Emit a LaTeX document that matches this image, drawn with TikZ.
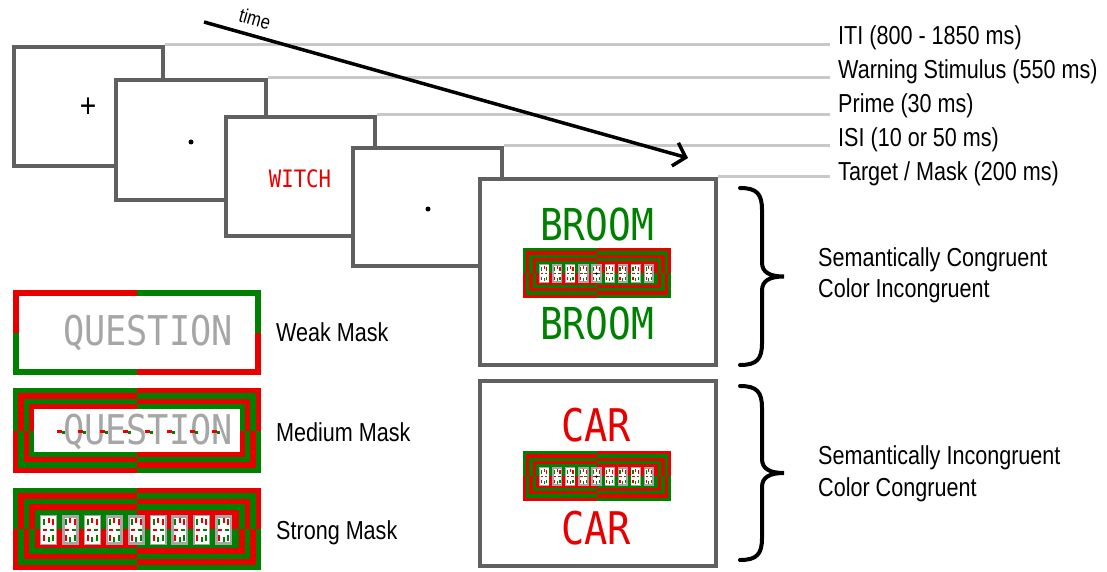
\documentclass[tikz,border=0pt]{standalone}
\usepackage{fontspec}
\setmainfont[FakeStretch=0.83]{Liberation Sans}
\newfontfamily\segfont[FakeStretch=0.86]{DejaVu Sans Mono}
\usetikzlibrary{arrows.meta}
\definecolor{mred}{RGB}{232,0,0}
\definecolor{mgreen}{RGB}{0,128,0}
\definecolor{boxgray}{RGB}{96,96,96}
\definecolor{linegray}{RGB}{200,200,200}
\definecolor{txtgray}{RGB}{166,166,166}

% quadrant rings: x0 y0 x1 y1 lastindex ringwidth colourTLouter colourOther
\newcommand\maskrings[8]{%
  \pgfmathsetmacro\mxm{(#1+#3)/2}%
  \pgfmathsetmacro\mym{(#2+#4)/2}%
  \foreach \k in {0,...,#5}{%
    \pgfmathsetmacro\ax{#1+\k*#6}%
    \pgfmathsetmacro\ay{#2+\k*#6}%
    \pgfmathsetmacro\bx{#3-\k*#6}%
    \pgfmathsetmacro\by{#4-\k*#6}%
    \ifodd\k\relax\def\ca{#8}\def\cb{#7}\else\def\ca{#7}\def\cb{#8}\fi
    \fill[\ca] (\ax,\ay) rectangle (\mxm,\mym);
    \fill[\cb] (\mxm,\ay) rectangle (\bx,\mym);
    \fill[\cb] (\ax,\mym) rectangle (\mxm,\by);
    \fill[\ca] (\mxm,\mym) rectangle (\bx,\by);
  }}

% one noise cell of the strong mask (local 17 x 30)
\newcommand\noisecell[2]{%
  \begin{scope}[shift={(#1,27)}]
    \fill[txtgray] (0,0) rectangle (17,30);
    \fill[white] (#2,#2) rectangle (17-#2,30-#2);
    \fill[mgreen] (3,4) rectangle (5,10);
    \fill[mred] (12,4) rectangle (14,10);
    \fill[mred] (7.5,3) rectangle (9.5,8);
    \fill[mred] (3,20) rectangle (5,26);
    \fill[mgreen] (12,20) rectangle (14,26);
    \fill[mgreen] (7.5,22) rectangle (9.5,27);
    \fill[mred] (3,14) rectangle (7,16);
    \fill[mgreen] (10,14) rectangle (14,16);
  \end{scope}}

\newcommand\strongmaskbody{%
  \maskrings{0}{0}{248}{82}{4}{5.4}{mgreen}{mred}%
  \foreach \i/\g in {0/1.3,1/2.6,2/1.3,3/2.6,4/2.6,5/1.3,6/2.6,7/1.3,8/2.6}{%
    \noisecell{27+\i*21.9}{\g}}%
}

\newcommand\cbrace[3]{%
  \pgfmathsetmacro\bmid{(#2+#3)/2}%
  \draw[bracestyle] (#1,#2) .. controls (#1+17,#2) and (#1+22,#2+6) .. (#1+22,#2+22)
    -- (#1+22,\bmid-14) .. controls (#1+22,\bmid-4) and (#1+30,\bmid) .. (#1+44,\bmid)
    .. controls (#1+30,\bmid) and (#1+22,\bmid+4) .. (#1+22,\bmid+14)
    -- (#1+22,#3-22) .. controls (#1+22,#3-6) and (#1+17,#3) .. (#1,#3);}

\begin{document}
\begin{tikzpicture}[x=1pt,y=-1pt,
  screen/.style={draw=boxgray, line width=4pt, fill=white, rectangle, inner sep=0},
  gline/.style={draw=linegray, line width=3pt},
  lab/.style={font=\fontsize{26}{30}\selectfont, anchor=base west, inner sep=0},
  seg/.style={font=\segfont\fontsize{44}{46}\selectfont, inner sep=0},
  segcar/.style={font=\segfont\fontsize{45}{47}\selectfont, inner sep=0},
  segsmall/.style={font=\segfont\fontsize{24}{26}\selectfont, inner sep=0},
  segq/.style={font=\segfont\fontsize{41}{43}\selectfont, inner sep=0, text=txtgray},
  fixdot/.style={circle, fill=black, inner sep=0, minimum size=5pt},
  timearrow/.style={line width=3.5pt, -{Straight Barb[length=11pt,width=24pt,line width=3.5pt]}},
  bracestyle/.style={line width=4pt, line cap=round, black}]

\fill[white] (0,0) rectangle (1107,572);
\useasboundingbox (0,0) rectangle (1107,572);

\coordinate (lineend) at (830,0);

% screens
\node[screen, minimum width=149pt, minimum height=119pt] (b1) at (88.5,106.5) {};
\node[screen, minimum width=150pt, minimum height=120pt] (b2) at (191,140) {};
\node[screen, minimum width=149pt, minimum height=119pt] (b3) at (300.5,176.5) {};
\node[screen, minimum width=149pt, minimum height=118pt] (b4) at (427.5,207) {};
\node[screen, minimum width=236pt, minimum height=186pt] (b5) at (598,272) {};
\node[screen, minimum width=236pt, minimum height=185pt] (b6) at (598,473.5) {};

% timeline grey lines
\draw[gline] (b1.north east) -- (b1.north east -| lineend);
\draw[gline] (b2.north east) -- (b2.north east -| lineend);
\draw[gline] (b3.north east) -- (b3.north east -| lineend);
\draw[gline] (b4.north east) -- (b4.north east -| lineend);
\draw[gline] (b5.north east) -- (b5.north east -| lineend);

% labels of the timeline
\node[lab] (l1) at (838,45) {ITI (800 - 1850 ms)};
\node[lab] (l2) at (838,79) {Warning Stimulus (550 ms)};
\node[lab] (l3) at (838,113) {Prime (30 ms)};
\node[lab] (l4) at (838,147) {ISI (10 or 50 ms)};
\node[lab] (l5) at (838,181) {Target / Mask (200 ms)};

% screen contents
\node[font=\fontsize{34}{34}\selectfont, inner sep=0] (plus) at (88,108) {+};
\node[fixdot] (fix1) at (191,142) {};
\node[segsmall, text=mred] (witch) at (300,179) {WITCH};
\node[fixdot] (fix2) at (428,209) {};

\node[seg, text=mgreen] (broom1) at (597,224) {BROOM};
\node[seg, text=mgreen] (broom2) at (597,323) {BROOM};
\begin{scope}[shift={(523,248)}, xscale=0.597, yscale=0.61]
  \strongmaskbody
  \fill[black] (123.1,42) circle [radius=2.2];
\end{scope}

\node[segcar, text=mred] (car1) at (596,425) {CAR};
\node[segcar, text=mred] (car2) at (596,528) {CAR};
\begin{scope}[shift={(523,451)}, xscale=0.597, yscale=0.61]
  \strongmaskbody
  \fill[black] (123.1,42) circle [radius=2.2];
\end{scope}

% time arrow
\coordinate (t0) at (204,22);
\coordinate (t1) at (688,158);
\draw[timearrow] (t0) -- (t1);
\node[font=\fontsize{20}{20}\selectfont, rotate=-15.8, inner sep=0] (time) at (255,19) {time};

% braces and their labels
\cbrace{740}{188}{365}
\cbrace{740}{386}{560}
\node[lab] (c1) at (818,266) {Semantically Congruent};
\node[lab] (c2) at (818,297) {Color Incongruent};
\node[lab] (c3) at (818,464) {Semantically Incongruent};
\node[lab] (c4) at (818,496) {Color Congruent};

% weak mask
\maskrings{13}{290}{261}{375}{0}{6}{mred}{mgreen}
\fill[white] (19,296) rectangle (255,369);
\node[segq] (q1) at (148,333) {QUESTION};
\node[lab] (wm) at (276,341) {Weak Mask};

% medium mask
\maskrings{13}{388}{261}{473}{3}{5.3}{mgreen}{mred}
\fill[white] (34.2,409.2) rectangle (239.8,451.8);
\node[segq] (q2) at (148,432) {QUESTION};
\foreach \dx in {57,78,100,123,145,167,190,212}{
  \fill[mred] (\dx,429.5) rectangle (\dx+5,432.5);
  \fill[mgreen] (\dx+5,431) rectangle (\dx+8,434);
}
\node[lab] (mm) at (276,441) {Medium Mask};

% strong mask
\begin{scope}[shift={(13,488)}]
  \strongmaskbody
\end{scope}
\node[lab] (sm) at (276,539) {Strong Mask};
\end{tikzpicture}
\end{document}
